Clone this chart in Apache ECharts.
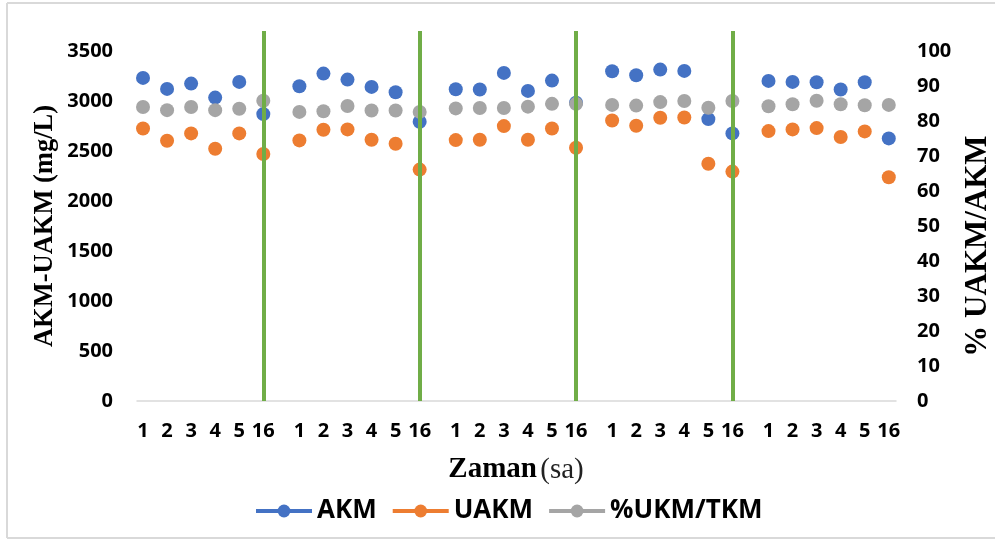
<!DOCTYPE html>
<html>
<head>
<meta charset="utf-8">
<script src="https://cdn.jsdelivr.net/npm/echarts@6/dist/echarts.min.js"></script>
<style>
  html, body { margin: 0; padding: 0; background: #fff; }
  #chart { width: 995px; height: 539px; }
</style>
</head>
<body>
<div id="chart"></div>
<script>
// Sampling hours, five runs of six samples each
const hours = ['1','2','3','4','5','16', '1','2','3','4','5','16', '1','2','3','4','5','16',
               '1','2','3','4','5','16', '1','2','3','4','5','16'];

// AKM (mg/L)
const akm = [3231, 3121, 3174, 3034, 3191, 2869,
             3148, 3274, 3214, 3141, 3088, 2792,
             3118, 3115, 3281, 3101, 3204, 2982,
             3298, 3258, 3314, 3301, 2819, 2676,
             3201, 3191, 3188, 3115, 3188, 2626];

// UAKM (mg/L)
const uakm = [2725, 2603, 2676, 2523, 2676, 2470,
              2606, 2712, 2716, 2613, 2573, 2314,
              2609, 2613, 2749, 2613, 2725, 2533,
              2805, 2752, 2832, 2835, 2373, 2294,
              2699, 2716, 2729, 2640, 2696, 2237];

// %UKM/TKM (right axis)
const ratio = [84.0, 83.1, 84.0, 83.1, 83.5, 85.8,
               82.6, 82.8, 84.3, 83.0, 83.0, 82.6,
               83.6, 83.7, 83.7, 84.1, 84.9, 84.9,
               84.6, 84.4, 85.4, 85.7, 83.8, 85.7,
               84.2, 84.8, 85.8, 84.8, 84.5, 84.6];

const seriesNames = ['AKM', 'UAKM', '%UKM/TKM'];
const colors = ['#4472C4', '#ED7D31', '#A5A5A5'];

// x position of each sample: runs of six, with a wider gap between runs
const perRun = 6;
const runStep = 6.5;
const xPos = hours.map((_, k) => Math.floor(k / perRun) * runStep + (k % perRun));
// separators at the end of every run but the last
const separators = xPos.filter((_, k) => k % perRun === perRun - 1 && k < hours.length - 1);

const labelFont = { fontFamily: 'Open Sans', fontWeight: 'bold', fontSize: 20, color: '#000' };

function pointSeries(name, values, color, yIndex, extra) {
  return Object.assign({
    name: name,
    type: 'line',
    yAxisIndex: yIndex,
    data: values.map((v, k) => [xPos[k], v]),
    symbol: 'circle',
    symbolSize: 14,
    showSymbol: true,
    lineStyle: { width: 0, color: color },
    itemStyle: { color: color },
    emphasis: { disabled: true },
    silent: true,
    animation: false
  }, extra || {});
}

const chart = echarts.init(document.getElementById('chart'));
chart.setOption({
  animation: false,
  backgroundColor: '#fff',
  grid: { left: 137, right: 99, top: 31, bottom: 138 },
  xAxis: {
    type: 'value',
    min: -0.25,
    max: 31.3,
    splitLine: { show: false },
    axisTick: { show: false },
    axisLine: { show: true, lineStyle: { color: '#D9D9D9', width: 1.5 } },
    axisLabel: Object.assign({
      customValues: xPos,
      margin: 20,
      formatter: function (v) {
        const k = xPos.findIndex(p => Math.abs(p - v) < 1e-6);
        return k >= 0 ? hours[k] : '';
      }
    }, labelFont)
  },
  yAxis: [
    {
      type: 'value', min: 0, max: 3700, interval: 500,
      splitLine: { show: false }, axisLine: { show: false }, axisTick: { show: false },
      axisLabel: Object.assign({ margin: 24, showMaxLabel: false, formatter: v => String(v) }, labelFont)
    },
    {
      type: 'value', min: 0, max: 3700 / 35, interval: 10, position: 'right',
      splitLine: { show: false }, axisLine: { show: false }, axisTick: { show: false },
      axisLabel: Object.assign({ margin: 21, showMaxLabel: false, formatter: v => String(v) }, labelFont)
    }
  ],
  legend: {
    data: seriesNames,
    left: 254,
    top: 498,
    padding: 0,
    itemWidth: 56,
    itemHeight: 16,
    itemGap: 14,
    lineStyle: { width: 4 },
    textStyle: { fontFamily: 'Open Sans', fontWeight: 'bold', fontSize: 26, color: '#000' },
    selectedMode: false
  },
  series: [
    pointSeries('AKM', akm, colors[0], 0),
    pointSeries('UAKM', uakm, colors[1], 0),
    pointSeries('%UKM/TKM', ratio, colors[2], 1, {
      markLine: {
        silent: true,
        symbol: 'none',
        label: { show: false },
        lineStyle: { color: '#70AD47', width: 4, type: 'solid' },
        data: separators.map(p => ({ xAxis: p }))
      }
    })
  ],
  graphic: [
    { type: 'line', shape: { x1: 7, y1: 3, x2: 995, y2: 3 }, style: { stroke: '#D9D9D9', lineWidth: 2 } },
    { type: 'line', shape: { x1: 7, y1: 3, x2: 7, y2: 538 }, style: { stroke: '#D9D9D9', lineWidth: 2 } },
    { type: 'line', shape: { x1: 7, y1: 538, x2: 995, y2: 538 }, style: { stroke: '#D9D9D9', lineWidth: 2 } },
    {
      type: 'text', x: 45, y: 226, rotation: Math.PI / 2,
      style: {
        text: 'AKM-UAKM (mg/L)', x: 0, y: 0, align: 'center', verticalAlign: 'middle',
        font: 'bold 26.5px "Liberation Serif"', fill: '#000'
      }
    },
    {
      type: 'text', x: 978, y: 246, rotation: Math.PI / 2,
      style: {
        text: '% UAKM/AKM', x: 0, y: 0, align: 'center', verticalAlign: 'middle',
        font: 'bold 31px "Liberation Serif"', fill: '#000'
      }
    },
    {
      type: 'text', x: 516, y: 470,
      style: {
        text: '{b|Zaman} {n|(sa)}', x: 0, y: 0, align: 'center', verticalAlign: 'middle',
        rich: {
          b: { fontFamily: 'Liberation Serif', fontWeight: 'bold', fontSize: 29, fill: '#000' },
          n: { fontFamily: 'Liberation Serif', fontWeight: 'normal', fontSize: 29, fill: '#222' }
        }
      }
    }
  ]
});
</script>
</body>
</html>
